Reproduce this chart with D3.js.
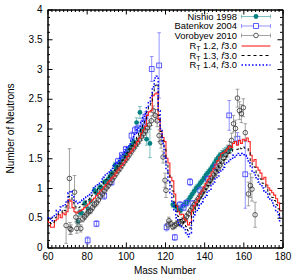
<!DOCTYPE html>
<html><head><meta charset="utf-8">
<script src="https://cdn.jsdelivr.net/npm/d3@7"></script>
<style>body{margin:0;background:#fff}svg text{font-family:"Liberation Sans",Arial,sans-serif;fill:#000}</style>
</head><body><svg id="c" width="300" height="279"></svg>
<script>
// ---- data ----
const massNumbers = d3.range(60, 180);
const nuRT12 = [0.45,0.42,0.34,0.34,0.45,0.48,0.55,0.50,0.58,0.55,
0.60,0.80,0.78,0.67,0.60,0.58,0.60,0.62,0.64,0.67,
0.70,0.73,0.77,0.80,0.83,0.87,0.91,0.95,0.98,1.02,
1.06,1.10,1.13,1.17,1.20,1.25,1.30,1.34,1.38,1.42,
1.47,1.53,1.58,1.62,1.67,1.72,1.78,1.84,1.92,1.98,
2.04,2.22,2.28,2.30,2.55,2.58,2.60,2.15,1.95,1.85,
1.78,1.50,1.42,1.18,1.12,0.90,0.70,0.60,0.55,0.56,
0.48,0.45,0.38,0.42,0.62,0.70,0.76,0.82,0.90,0.95,
1.02,1.08,1.14,1.20,1.27,1.33,1.40,1.46,1.52,1.58,
1.60,1.62,1.66,1.70,1.68,1.75,1.78,1.72,1.80,1.75,
1.82,1.80,1.84,1.78,1.55,1.45,1.48,1.35,1.30,1.25,
1.15,1.18,1.05,1.00,0.96,0.92,0.88,0.82,0.75,0.62];
const nuRT13 = [0.48,0.45,0.40,0.42,0.50,0.55,0.58,0.58,0.64,0.62,
0.70,0.86,0.85,0.76,0.70,0.66,0.67,0.69,0.72,0.75,
0.78,0.81,0.85,0.88,0.92,0.95,0.99,1.03,1.06,1.10,
1.14,1.18,1.22,1.25,1.29,1.33,1.38,1.42,1.46,1.51,
1.55,1.60,1.66,1.71,1.76,1.82,1.88,1.94,2.01,2.08,
2.14,2.28,2.36,2.42,2.62,2.72,2.75,2.22,1.95,1.80,
1.65,1.40,1.25,1.05,0.95,0.76,0.60,0.52,0.47,0.46,
0.40,0.35,0.28,0.33,0.54,0.62,0.68,0.74,0.81,0.86,
0.92,0.98,1.04,1.09,1.15,1.21,1.27,1.33,1.39,1.44,
1.47,1.51,1.55,1.59,1.59,1.65,1.65,1.65,1.68,1.66,
1.69,1.67,1.67,1.60,1.45,1.37,1.35,1.25,1.20,1.15,
1.08,1.06,0.98,0.92,0.88,0.84,0.79,0.72,0.65,0.52];
const nuRT14 = [0.50,0.48,0.45,0.52,0.55,0.62,0.60,0.68,0.70,0.72,
0.78,0.92,0.95,0.85,0.78,0.75,0.74,0.76,0.80,0.82,
0.85,0.88,0.92,0.96,1.00,1.03,1.07,1.10,1.15,1.18,
1.22,1.26,1.30,1.33,1.37,1.42,1.46,1.50,1.55,1.60,
1.64,1.68,1.74,1.80,1.86,1.92,1.98,2.04,2.10,2.18,
2.25,2.35,2.45,2.55,2.70,2.85,2.88,2.30,2.00,1.75,
1.50,1.30,1.10,0.92,0.75,0.62,0.50,0.42,0.38,0.35,
0.30,0.25,0.18,0.25,0.45,0.55,0.60,0.66,0.72,0.77,
0.82,0.88,0.93,0.98,1.04,1.10,1.15,1.20,1.26,1.30,
1.35,1.40,1.44,1.48,1.50,1.55,1.52,1.58,1.55,1.58,
1.56,1.55,1.50,1.42,1.35,1.28,1.22,1.15,1.10,1.05,
1.00,0.95,0.90,0.85,0.80,0.75,0.70,0.62,0.55,0.42];

const nishioA = [75.5,76.4,77.4,79,80.7,82,84,85,86.7,87.5,89,90,91,92,93,94.4,95,96,97,98,99,100,101,102,103,104,105.5,107.2,108,109,110.6,112.3,
124,125,126,127,128,129,130,131,132,133,134,135,136,137,138,139,140,141,142,143,144,145,146,147,148,149,150,151,152,153.3];
const nishioNu = [0.43,0.59,0.58,0.74,0.65,0.78,0.96,0.92,1.01,1.0,1.1,1.08,1.15,1.2,1.25,1.38,1.32,1.38,1.42,1.48,1.52,1.56,1.62,1.66,1.72,1.78,2.1,2.27,1.95,2.0,1.82,1.75,
0.72,0.7,0.68,0.65,0.62,0.7,0.72,0.75,0.8,0.85,0.9,0.95,1.0,1.03,1.08,1.12,1.17,1.22,1.26,1.3,1.35,1.4,1.46,1.5,1.55,1.57,1.6,1.62,1.64,1.66];
const nishioErr = [0.05,0.05,0.05,0.05,0.05,0.05,0.05,0.05,0.05,0.05,0.05,0.05,0.05,0.05,0.05,0.05,0.05,0.05,0.05,0.05,0.05,0.05,0.05,0.05,0.05,0.05,0.08,0.1,0.08,0.08,0.1,0.24,
0.05,0.05,0.05,0.05,0.05,0.05,0.05,0.05,0.05,0.05,0.05,0.05,0.05,0.05,0.05,0.05,0.05,0.05,0.05,0.05,0.05,0.05,0.05,0.05,0.05,0.06,0.06,0.06,0.06,0.06];

const batenkovA = [80.5,85,89,92.7,96,98,100,102.9,104.6,106,109,110,113.2,117,
120.8,125,127.7,129.5,131,132.8,134.4,138,142,146,152.8,157,161];
const batenkovNu = [0.12,0.4,0.87,1.1,1.45,1.55,1.65,1.88,1.97,2.0,2.1,2.2,3.0,3.06,
0.34,0.17,0.72,0.67,0.75,1.1,0.74,0.96,1.15,1.35,2.22,1.83,1.23];
const batenkovErr = [0.06,0.05,0.06,0.06,0.05,0.05,0.05,0.06,0.06,0.06,0.07,0.08,0.21,0.55,
0.06,0.05,0.05,0.05,0.05,0.06,0.05,0.05,0.05,0.06,0.25,0.1,0.57];

const vorobyevA = [69.5,71.2,71.5,72,73.8,74.5,75,76,77,78,79,80,81,82,83,84,85,86,87,88,89,90,91,92,93,94,95,96,97,98,99,100,101,102,103,104,105,106,107,108,109,110,111,112,113,114,115,116,117,118,119,120,120.5,
121.5,122,123,124,125,126,127,128,129,130,131,132,133,134,135,136,137,138,139,140,141,142,143,144,145,146,147,148,149,150,151,152,153,154,155,156,157,158,159,160,161,162.6,163.6,164.4,166];
const vorobyevNu = [0.37,1.16,0.32,0.30,0.93,0.51,0.32,0.45,0.32,0.48,0.52,0.56,0.6,0.62,0.67,0.72,0.75,0.8,0.86,0.9,0.95,1.0,1.04,1.09,1.14,1.19,1.24,1.29,1.33,1.38,1.43,1.48,1.52,1.57,1.62,1.67,1.72,1.76,1.81,1.86,1.91,1.96,2.01,2.06,2.13,2.3,2.22,2.13,1.88,1.77,1.52,1.13,0.96,
0.38,0.45,0.4,0.35,0.37,0.4,0.42,0.4,0.45,0.47,0.52,0.57,0.62,0.67,0.72,0.77,0.82,0.87,0.92,0.97,1.02,1.07,1.12,1.17,1.22,1.27,1.32,1.38,1.44,1.5,1.56,1.62,1.68,1.8,2.08,2.0,2.51,2.3,2.25,2.35,1.93,0.9,1.04,0.98,0.55];
const vorobyevErr = [0.3,0.5,0.1,0.08,0.28,0.08,0.08,0.07,0.06,0.05,0.05,0.05,0.05,0.05,0.05,0.05,0.05,0.05,0.05,0.05,0.05,0.05,0.05,0.05,0.05,0.05,0.05,0.05,0.05,0.05,0.05,0.05,0.05,0.05,0.05,0.05,0.06,0.06,0.06,0.06,0.06,0.07,0.07,0.07,0.08,0.08,0.1,0.1,0.1,0.1,0.1,0.12,0.12,
0.06,0.06,0.05,0.05,0.05,0.05,0.05,0.05,0.05,0.05,0.05,0.05,0.05,0.05,0.05,0.05,0.05,0.05,0.05,0.05,0.05,0.05,0.05,0.05,0.05,0.06,0.06,0.06,0.07,0.08,0.08,0.1,0.1,0.12,0.14,0.14,0.15,0.15,0.15,0.15,0.15,0.2,0.2,0.2,0.21];

const xTicks = [60,80,100,120,140,160,180];
const yTicks = [0,0.5,1,1.5,2,2.5,3,3.5,4];
const yTickLabels = ["0","0.5","1","1.5","2","2.5","3","3.5","4"];
const legendLabels = ["Nishio 1998","Batenkov 2004","Vorobyev 2010"];
const modelLabels = ["1.2","1.3","1.4"];

// ---- chart ----
const svg = d3.select("#c");
const L = 47.5, R = 282.5, T = 9.5, B = 247.5;
const x = d3.scaleLinear().domain([60,180]).range([L,R]);
const y = d3.scaleLinear().domain([0,4]).range([B,T]);

svg.append("defs").append("clipPath").attr("id","clip")
  .append("rect").attr("x",L).attr("y",T).attr("width",R-L).attr("height",B-T);

const xMinor = d3.range(60,181,2).filter(v => v % 20 !== 0);
const yMinor = d3.range(0,4.001,0.125).filter(v => Math.abs(v*2 - Math.round(v*2)) > 1e-6);

function axisG(axis, tx, ty){
  const g = svg.append("g").attr("transform",`translate(${tx},${ty})`).call(axis);
  g.select(".domain").attr("stroke","#000");
  g.selectAll(".tick line").attr("stroke","#000");
  g.selectAll("text").attr("font-size",10).attr("font-family","Liberation Sans, Arial, sans-serif");
  return g;
}
axisG(d3.axisBottom(x).tickValues(xTicks).tickSize(-5).tickSizeOuter(0).tickPadding(5), 0, B);
axisG(d3.axisBottom(x).tickValues(xMinor).tickSize(-2.5).tickSizeOuter(0).tickFormat(""), 0, B);
axisG(d3.axisTop(x).tickValues(xTicks).tickSize(-5).tickSizeOuter(0).tickFormat(""), 0, T);
axisG(d3.axisTop(x).tickValues(xMinor).tickSize(-2.5).tickSizeOuter(0).tickFormat(""), 0, T);
axisG(d3.axisLeft(y).tickValues(yTicks).tickSize(-5).tickSizeOuter(0).tickPadding(5).tickFormat((d,i)=>yTickLabels[i]), L, 0);
axisG(d3.axisLeft(y).tickValues(yMinor).tickSize(-2.5).tickSizeOuter(0).tickFormat(""), L, 0);
axisG(d3.axisRight(y).tickValues(yTicks).tickSize(-5).tickSizeOuter(0).tickFormat(""), R, 0);
axisG(d3.axisRight(y).tickValues(yMinor).tickSize(-2.5).tickSizeOuter(0).tickFormat(""), R, 0);

svg.append("text").attr("x",(L+R)/2).attr("y",274).attr("text-anchor","middle").attr("font-size",10).text("Mass Number");
svg.append("text").attr("transform",`translate(13.5,${(T+B)/2}) rotate(-90)`).attr("text-anchor","middle").attr("font-size",10).text("Number of Neutrons");

const plot = svg.append("g").attr("clip-path","url(#clip)");

function errSeries(A, V, E, barColor){
  const g = plot.append("g").attr("stroke",barColor).attr("stroke-width",0.8).attr("fill","none");
  A.forEach((a,i)=>{
    const px = x(a), y1 = y(V[i]-E[i]), y2 = y(V[i]+E[i]);
    g.append("line").attr("x1",px).attr("x2",px).attr("y1",y1).attr("y2",y2);
    g.append("line").attr("x1",px-1.8).attr("x2",px+1.8).attr("y1",y1).attr("y2",y1);
    g.append("line").attr("x1",px-1.8).attr("x2",px+1.8).attr("y1",y2).attr("y2",y2);
  });
}
const teal = "#008080", tealBar = "#5fb0b0";
const blueSym = "#3a3aff", blueBar = "#7a7aff";
const graySym = "#333", grayBar = "#8c8c8c";

errSeries(nishioA, nishioNu, nishioErr, tealBar);
plot.append("g").selectAll("circle").data(nishioA).join("circle")
  .attr("cx",d=>x(d)).attr("cy",(d,i)=>y(nishioNu[i])).attr("r",2.4).attr("fill",teal);

errSeries(batenkovA, batenkovNu, batenkovErr, blueBar);
plot.append("g").selectAll("rect").data(batenkovA).join("rect")
  .attr("x",d=>x(d)-2.4).attr("y",(d,i)=>y(batenkovNu[i])-2.4).attr("width",4.8).attr("height",4.8)
  .attr("fill","none").attr("stroke",blueSym).attr("stroke-width",0.8);

errSeries(vorobyevA, vorobyevNu, vorobyevErr, grayBar);
plot.append("g").selectAll("circle").data(vorobyevA).join("circle")
  .attr("cx",d=>x(d)).attr("cy",(d,i)=>y(vorobyevNu[i])).attr("r",2.3)
  .attr("fill","none").attr("stroke",graySym).attr("stroke-width",0.8);

const line = vals => d3.line().x((d,i)=>x(massNumbers[i])).y(d=>y(d)).curve(d3.curveStep)(vals);
plot.append("path").attr("d",line(nuRT12)).attr("fill","none").attr("stroke","#ff2020").attr("stroke-width",1.1);
plot.append("path").attr("d",line(nuRT13)).attr("fill","none").attr("stroke","#000").attr("stroke-width",1).attr("stroke-dasharray","3,3");
plot.append("path").attr("d",line(nuRT14)).attr("fill","none").attr("stroke","#0000ff").attr("stroke-width",1.5).attr("stroke-dasharray","1.5,2");

// ---- legend ----
const lg = svg.append("g");
const tx = 237, s1 = 241.5, s2 = 270.5;
const rows = [16.5, 26, 35.5, 46, 55.5, 65];
const fs = 9.4;
function legText(yy, parts){
  const t = lg.append("text").attr("x",tx).attr("y",yy+3.3).attr("text-anchor","end").attr("font-size",fs);
  parts.forEach(p=>{
    const ts = t.append("tspan").text(p.t);
    if(p.sub) ts.attr("font-size",6.8).attr("baseline-shift","-25%");
    if(p.it) ts.attr("font-style","italic");
  });
}
function legErr(yy, bar){
  const g = lg.append("g").attr("stroke",bar).attr("stroke-width",0.8);
  g.append("line").attr("x1",s1).attr("x2",s2).attr("y1",yy).attr("y2",yy);
  g.append("line").attr("x1",s1).attr("x2",s1).attr("y1",yy-2).attr("y2",yy+2);
  g.append("line").attr("x1",s2).attr("x2",s2).attr("y1",yy-2).attr("y2",yy+2);
}
legText(rows[0],[{t:legendLabels[0]}]);
legErr(rows[0], tealBar);
lg.append("circle").attr("cx",(s1+s2)/2).attr("cy",rows[0]).attr("r",2.4).attr("fill",teal);
legText(rows[1],[{t:legendLabels[1]}]);
legErr(rows[1], blueBar);
lg.append("rect").attr("x",(s1+s2)/2-2.4).attr("y",rows[1]-2.4).attr("width",4.8).attr("height",4.8).attr("fill","#fff").attr("stroke",blueSym).attr("stroke-width",0.8);
legText(rows[2],[{t:legendLabels[2]}]);
legErr(rows[2], grayBar);
lg.append("circle").attr("cx",(s1+s2)/2).attr("cy",rows[2]).attr("r",2.3).attr("fill","#fff").attr("stroke",graySym).attr("stroke-width",0.8);
const styles = [["#ff2020",null,1.1],["#000","3,3",1],["#0000ff","1.5,2",1.5]];
modelLabels.forEach((lab,i)=>{
  const yy = rows[3+i], st = styles[i];
  legText(yy,[{t:"R"},{t:"T",sub:true},{t:" "+lab+", "},{t:"f",it:true},{t:"3.0"}]);
  const l = lg.append("line").attr("x1",s1).attr("x2",s2).attr("y1",yy).attr("y2",yy).attr("stroke",st[0]).attr("stroke-width",st[2]);
  if(st[1]) l.attr("stroke-dasharray",st[1]);
});
</script></body></html>
